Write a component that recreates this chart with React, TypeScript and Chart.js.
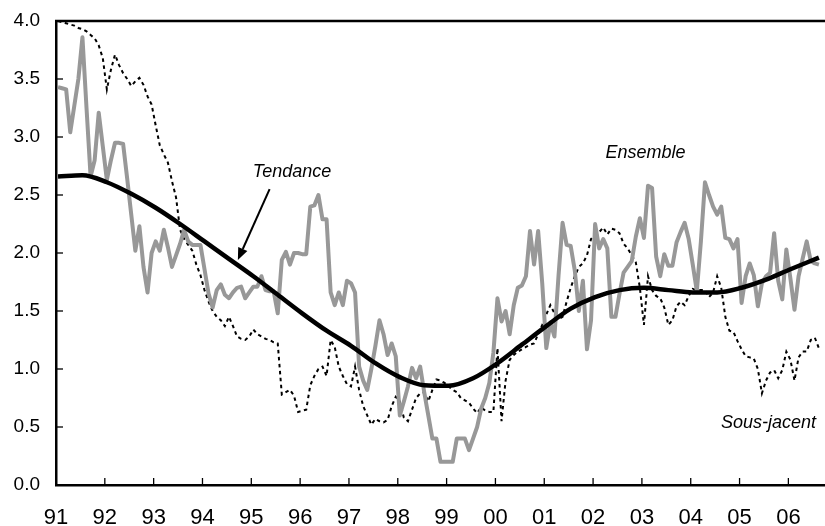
import React, { useEffect, useRef } from "react";
import { Chart, registerables } from "chart.js";

Chart.register(...registerables);

// ---- data (monthly, Jan 1991 .. Aug 2006) ----
const yearLabels = ["91", "92", "93", "94", "95", "96", "97", "98", "99", "00", "01", "02", "03", "04", "05", "06"];

const yTickValues = [0, 0.5, 1, 1.5, 2, 2.5, 3, 3.5, 4];

const ensemble = [
  3.43, 3.42, 3.41, 3.04, 3.27, 3.5, 3.86, 3.25, 2.66, 2.8, 3.21, 2.92,
  2.63, 2.8, 2.95, 2.95, 2.94, 2.64, 2.33, 2.02, 2.23, 1.88, 1.66, 2.0,
  2.1, 2.02, 2.2, 2.05, 1.88, 1.98, 2.08, 2.2, 2.1, 2.07, 2.07, 2.07,
  1.86, 1.65, 1.53, 1.68, 1.73, 1.64, 1.61, 1.66, 1.7, 1.71, 1.61, 1.66,
  1.71, 1.71, 1.8, 1.68, 1.67, 1.67, 1.48, 1.94, 2.01, 1.9, 2.0, 2.0,
  1.99, 1.99, 2.4, 2.41, 2.5, 2.29, 2.29, 1.66, 1.55, 1.66, 1.55, 1.76,
  1.74, 1.66, 1.02, 0.9, 0.82, 1.0, 1.2, 1.42, 1.3, 1.12, 1.22, 1.11,
  0.6, 0.72, 0.85, 1.01, 0.92, 1.02, 0.8, 0.6, 0.4, 0.4, 0.2, 0.2,
  0.2, 0.2, 0.4, 0.4, 0.4, 0.3, 0.4, 0.5, 0.66, 0.75, 0.88, 1.14,
  1.61, 1.41, 1.5, 1.3, 1.55, 1.7, 1.72, 1.8, 2.19, 1.9, 2.19, 1.74,
  1.18, 1.4, 1.28, 1.8, 2.26, 2.07, 2.06, 1.85, 1.5, 1.76, 1.17, 1.42,
  2.25, 2.04, 2.12, 2.04, 1.45, 1.45, 1.65, 1.83, 1.88, 1.93, 2.14, 2.3,
  2.13, 2.58, 2.56, 1.97, 1.8, 1.99, 1.89, 1.89, 2.09, 2.18, 2.26, 2.12,
  1.9, 1.67, 2.1, 2.61, 2.5, 2.4, 2.33, 2.4, 2.13, 2.12, 2.04, 2.12,
  1.57, 1.8, 1.91, 1.81, 1.54, 1.74, 1.8, 1.83, 2.17, 1.76, 1.6, 2.03,
  1.78, 1.51, 1.8, 1.95, 2.1, 1.93, 1.91, 1.9,
];

const sousJacent = [
  4.0, 3.99, 3.98, 3.97, 3.96, 3.94, 3.93, 3.91, 3.88, 3.85, 3.79, 3.68,
  3.41, 3.58, 3.71, 3.62, 3.55, 3.5, 3.44, 3.48, 3.51, 3.45, 3.35, 3.28,
  3.1, 2.93, 2.85, 2.78, 2.62, 2.48, 2.2, 2.12, 2.07, 2.02, 1.9, 1.81,
  1.68, 1.58, 1.5, 1.45, 1.42, 1.37, 1.45, 1.37, 1.28, 1.26, 1.25, 1.28,
  1.34, 1.3, 1.28, 1.26, 1.25, 1.23, 1.22, 0.78, 0.8, 0.82, 0.77, 0.63,
  0.64, 0.65, 0.86, 0.94, 1.0, 1.02, 0.94, 1.25, 1.19, 1.02, 0.94, 0.87,
  0.85, 1.02, 0.82, 0.68, 0.6, 0.52, 0.57, 0.55, 0.54, 0.56, 0.68, 0.76,
  0.72, 0.58, 0.55, 0.65, 0.75, 0.79, 0.8, 0.72, 0.82, 0.91, 0.9, 0.88,
  0.85, 0.82, 0.8, 0.75, 0.73, 0.71, 0.66, 0.62, 0.67, 0.64, 0.63, 0.63,
  1.18, 0.55, 0.9, 1.08, 1.12, 1.15, 1.17, 1.19, 1.21, 1.22, 1.3, 1.38,
  1.47, 1.55, 1.48, 1.43, 1.45, 1.58, 1.7, 1.8, 1.88, 1.91, 1.98, 2.12,
  2.16, 2.18, 2.22, 2.16, 2.21, 2.2, 2.17, 2.08, 2.04, 1.98, 1.92, 1.7,
  1.38, 1.8, 1.68, 1.63, 1.61, 1.53, 1.38, 1.42, 1.54, 1.58, 1.55, 1.63,
  1.69, 1.68, 1.68, 1.68, 1.62, 1.66, 1.8, 1.7, 1.45, 1.33, 1.32, 1.24,
  1.17, 1.11, 1.1, 1.09, 1.0, 0.79, 0.9, 0.97, 0.99, 0.92, 0.99, 1.15,
  1.08, 0.9, 1.1, 1.15, 1.15, 1.25, 1.27, 1.18,
];

const tendanceMonths = [
  0, 6, 12, 18, 24, 30, 36, 42, 48, 54, 60, 66, 72, 78, 84, 90, 96, 102,
  108, 114, 120, 126, 132, 138, 144, 150, 156, 162, 168, 174, 180, 187,
];
const tendanceValues = [
  2.66, 2.67, 2.61, 2.51, 2.39, 2.25, 2.1, 1.95, 1.8, 1.64, 1.48, 1.33,
  1.2, 1.05, 0.93, 0.86, 0.855, 0.92, 1.05, 1.21, 1.37, 1.52, 1.62, 1.68,
  1.7, 1.68, 1.66, 1.66, 1.7, 1.77, 1.86, 1.96,
];

// annotation labels: [text, month, value]
const labelTexts = ["Tendance", "Ensemble", "Sous-jacent"];
const labelMonths = [58, 144.9, 175.1];
const labelValues = [2.7, 2.86, 0.535];

// arrow from the "Tendance" label to the line: [month, value]
const arrowStart = [52.5, 2.55];
const arrowEnd = [44.7, 1.94];

const X_MAX = 189;
const FONT = "'Liberation Sans', Arial, sans-serif";
const FONT_NARROW = "'Liberation Sans Narrow', 'Arial Narrow', 'Liberation Sans', Arial, sans-serif";

const decorPlugin = {
  id: "decor",
  beforeDatasetsDraw(chart: any) {
    const { ctx, chartArea, scales } = chart;
    const xs = scales.x;
    const ys = scales.y;
    ctx.save();
    ctx.strokeStyle = "#000";
    ctx.lineWidth = 1.3;
    // inward x ticks
    yearLabels.forEach((_, k) => {
      if (k === 0) return;
      const px = xs.getPixelForValue(k * 12);
      ctx.beginPath();
      ctx.moveTo(px, chartArea.bottom);
      ctx.lineTo(px, chartArea.bottom - 7);
      ctx.stroke();
    });
    // inward y ticks
    yTickValues.forEach((v) => {
      const py = ys.getPixelForValue(v);
      ctx.beginPath();
      ctx.moveTo(chartArea.left, py);
      ctx.lineTo(chartArea.left + 7, py);
      ctx.stroke();
    });
    // top border
    ctx.lineWidth = 2.5;
    ctx.beginPath();
    ctx.moveTo(chartArea.left - 1, ys.getPixelForValue(4));
    ctx.lineTo(chart.width, ys.getPixelForValue(4));
    ctx.stroke();
    ctx.restore();
  },
  afterDatasetsDraw(chart: any) {
    const { ctx, scales } = chart;
    const xs = scales.x;
    const ys = scales.y;
    ctx.save();
    ctx.fillStyle = "#000";
    ctx.font = "italic 18px " + FONT;
    ctx.textAlign = "center";
    ctx.textBaseline = "middle";
    labelTexts.forEach((t, k) => {
      ctx.fillText(t, xs.getPixelForValue(labelMonths[k]), ys.getPixelForValue(labelValues[k]));
    });
    // arrow
    const x1 = xs.getPixelForValue(arrowStart[0]);
    const y1 = ys.getPixelForValue(arrowStart[1]);
    const x2 = xs.getPixelForValue(arrowEnd[0]);
    const y2 = ys.getPixelForValue(arrowEnd[1]);
    const ang = Math.atan2(y2 - y1, x2 - x1);
    const headLen = 12;
    const headHalf = 5;
    const bx = x2 - headLen * Math.cos(ang);
    const by = y2 - headLen * Math.sin(ang);
    ctx.strokeStyle = "#000";
    ctx.lineWidth = 2;
    ctx.beginPath();
    ctx.moveTo(x1, y1);
    ctx.lineTo(bx, by);
    ctx.stroke();
    ctx.beginPath();
    ctx.moveTo(x2, y2);
    ctx.lineTo(bx + headHalf * Math.sin(ang), by - headHalf * Math.cos(ang));
    ctx.lineTo(bx - headHalf * Math.sin(ang), by + headHalf * Math.cos(ang));
    ctx.closePath();
    ctx.fill();
    ctx.restore();
  },
};

export default function App() {
  const canvasRef = useRef<HTMLCanvasElement | null>(null);

  useEffect(() => {
    if (!canvasRef.current) return;
    const chart = new Chart(canvasRef.current, {
      type: "line",
      data: {
        datasets: [
          {
            label: "Tendance",
            data: tendanceMonths.map((m, i) => ({ x: m + 0.5, y: tendanceValues[i] })),
            borderColor: "#000",
            borderWidth: 4.5,
            cubicInterpolationMode: "monotone",
            pointRadius: 0,
            fill: false,
          },
          {
            label: "Ensemble",
            data: ensemble.map((v, i) => ({ x: i + 0.5, y: v })),
            borderColor: "#989898",
            borderWidth: 4,
            borderJoinStyle: "round",
            pointRadius: 0,
            tension: 0,
            fill: false,
          },
          {
            label: "Sous-jacent",
            data: sousJacent.map((v, i) => ({ x: i + 0.5, y: v })),
            borderColor: "#000",
            borderWidth: 2,
            borderDash: [3.5, 3.5],
            pointRadius: 0,
            tension: 0,
            fill: false,
          },
        ],
      },
      options: {
        responsive: true,
        maintainAspectRatio: false,
        animation: false,
        layout: { padding: { top: 21, right: 0, left: 0, bottom: 0 } },
        plugins: { legend: { display: false }, tooltip: { enabled: false } },
        scales: {
          x: {
            type: "linear",
            min: 0,
            max: X_MAX,
            grid: { display: false, drawTicks: false },
            border: { display: true, color: "#000", width: 2.5 },
            afterBuildTicks: (s: any) => {
              s.ticks = yearLabels.map((_, k) => ({ value: k * 12 }));
            },
            afterFit: (s: any) => {
              s.height = 41;
              s.paddingLeft = 0;
              s.paddingRight = 0;
            },
            ticks: {
              autoSkip: false,
              maxRotation: 0,
              color: "#000",
              padding: 20,
              font: { family: FONT_NARROW, size: 22 },
              callback: (v: any) => yearLabels[Math.round(Number(v) / 12)],
            },
          },
          y: {
            min: 0,
            max: 4,
            grid: { display: false, drawTicks: false },
            border: { display: true, color: "#000", width: 2.5 },
            afterFit: (s: any) => {
              s.width = 56;
              s.paddingTop = 0;
              s.paddingBottom = 0;
            },
            ticks: {
              stepSize: 0.5,
              color: "#000",
              padding: 16,
              font: { family: FONT, size: 19 },
              callback: (v: any) => Number(v).toFixed(1),
            },
          },
        },
      },
      plugins: [decorPlugin],
    } as any);
    return () => chart.destroy();
  }, []);

  return (
    <div style={{ position: "absolute", left: 0, top: 0, width: 825, height: 526, background: "#fff" }}>
      <canvas ref={canvasRef} />
    </div>
  );
}
